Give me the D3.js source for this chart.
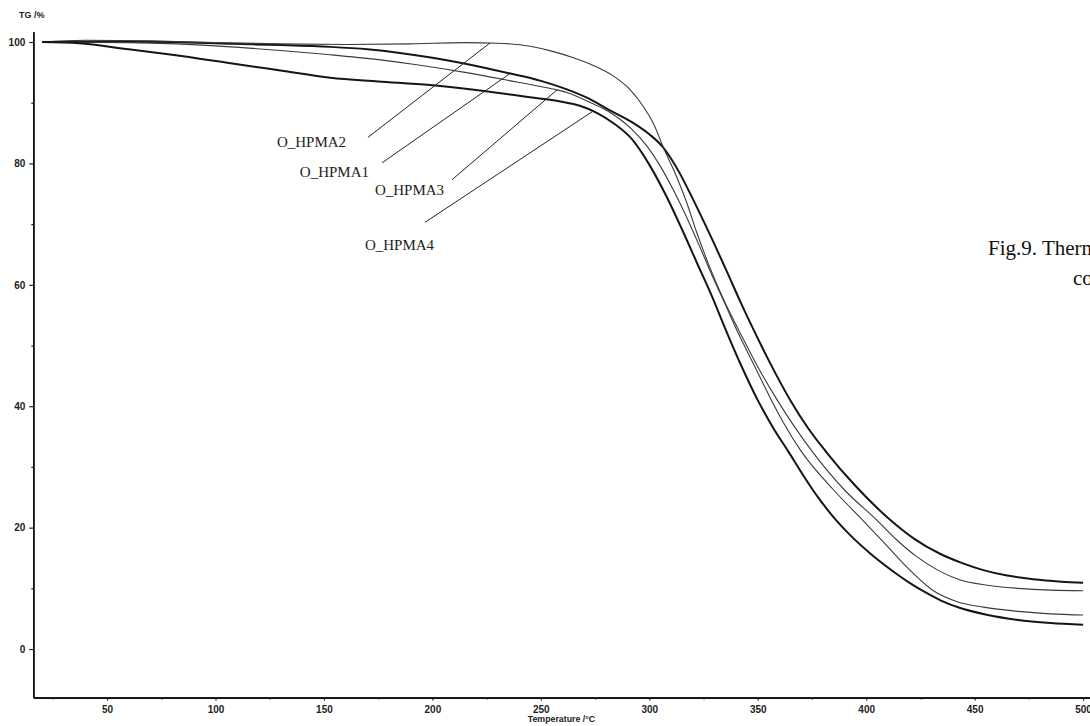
<!DOCTYPE html>
<html>
<head>
<meta charset="utf-8">
<script src="https://cdn.jsdelivr.net/npm/d3@7"></script>
<style>
  body { margin: 0; background: #fff; overflow: hidden; }
  svg { display: block; }
</style>
</head>
<body>
<svg id="chart" width="1090" height="726"></svg>
<script>
// TG curves: [temperature, TG %]
let hpma1 = [[20,100],[50,100.1],[80,100],[107,99.7],[130,99.5],[153,99.2],[170,98.8],[185,98.2],[200,97.4],[214,96.5],[226,95.6],[236,94.8],[250,93.6],[262,92.2],[272,90.7],[281,88.9],[292,86.8],[300,84.8],[306,82.8],[310,80.8],[314,78.4],[320,74.2],[327,69],[336,62],[342,57.2],[347,53.4],[355,47.6],[365,41],[373,36.5],[381.5,32.5],[395,26.9],[411,21.3],[422,18.2],[434,15.7],[444,14.2],[454,13],[465,12.1],[477,11.5],[490,11.1],[500,10.9]];
let hpma2 = [[20,100],[40,100.3],[70,100.2],[100,99.9],[130,99.7],[160,99.6],[190,99.7],[215,99.9],[230,99.8],[245,99.3],[255,98.5],[265,97.4],[275,96],[283,94.5],[291,92.2],[297,89.5],[302,86.5],[307,82.2],[312,78.3],[317,73.8],[322,68.5],[328,62.8],[335,57],[342,52],[350,46.5],[359,41],[367,36.6],[375,32.6],[390,26.2],[405,21.2],[414,18],[423,15.3],[433,13],[443,11.4],[456,10.5],[470,10],[485,9.7],[500,9.6]];
let hpma3 = [[20,100],[60,99.9],[107,99.2],[130,98.6],[153,97.9],[175,97.1],[192,96.3],[215,95],[239,93.4],[255,92.3],[262,91.7],[273,90],[281,88.6],[292,85.6],[299,82.8],[305,79.6],[311,75.7],[317,71.3],[323,66.5],[329,61.5],[335,56.8],[340,52.8],[348,47],[356,41.2],[362,37.2],[370,32.6],[385,26.2],[399,21],[408,17.6],[419,13.4],[431,9.6],[442,7.8],[454,6.9],[470,6.2],[485,5.8],[500,5.6]];
let hpma4 = [[20,100],[37,99.8],[60,98.8],[80,97.9],[107,96.5],[130,95.3],[153,94.1],[175,93.5],[199,92.9],[222,92],[245,90.9],[259,90.2],[268,89.5],[276,88.3],[284,86.5],[292,84],[300,79.8],[308,74.5],[315,69.2],[322,63.6],[329,58],[335,52.8],[342,47],[350,41],[357,36.5],[364,32.6],[371,28.6],[378,24.9],[385,21.7],[392.5,18.8],[402,15.7],[412,12.9],[420,10.9],[428,9.2],[435,7.9],[443,6.8],[455,5.7],[470,4.8],[485,4.3],[500,4.0]];

let seriesNames = ["O_HPMA1", "O_HPMA2", "O_HPMA3", "O_HPMA4"];
let seriesData = [hpma1, hpma2, hpma3, hpma4];
let seriesThick = [true, false, false, true];

// label text position and leader line (start point, temperature where it meets its curve)
let labelT = [138.9, 128.3, 173.5, 168.9];
let labelV = [77.8, 82.7, 74.8, 65.7];
let leaderStartT = [176.8, 170.3, 209, 196.6];
let leaderStartV = [80.1, 84.3, 77.3, 70.3];
let leaderEndT = [235.8, 226.5, 257.4, 274];

let xMajorTicks = [50, 100, 150, 200, 250, 300, 350, 400, 450, 500];
let xMinorTicks = [25, 75, 125, 175, 225, 275, 325, 375, 425, 475];
let yMajorTicks = [0, 20, 40, 60, 80, 100];
let yMinorTicks = [10, 30, 50, 70, 90];

let svg = d3.select("#chart");

let x = d3.scaleLinear().domain([16, 503]).range([33.3, 1089.6]);
let y = d3.scaleLinear().domain([-8, 101.7]).range([697.6, 31.7]);

// axes
svg.append("g")
    .attr("transform", "translate(" + x(16) + ",0)")
    .call(d3.axisLeft(y).tickValues(yMajorTicks).tickSize(4).tickSizeOuter(0).tickPadding(4));
svg.append("g")
    .attr("transform", "translate(" + x(16) + ",0)")
    .call(d3.axisLeft(y).tickValues(yMinorTicks).tickSize(2).tickFormat("").tickSizeOuter(0));

svg.append("g")
    .attr("transform", "translate(0," + y(-8) + ")")
    .call(d3.axisBottom(x).tickValues(xMajorTicks).tickSize(3).tickSizeOuter(0).tickPadding(5));
svg.append("g")
    .attr("transform", "translate(0," + y(-8) + ")")
    .call(d3.axisBottom(x).tickValues(xMinorTicks).tickSize(2).tickFormat("").tickSizeOuter(0));

svg.selectAll(".domain").style("stroke", "#111").style("stroke-width", 1.6);
svg.selectAll(".tick line").style("stroke", "#222").style("stroke-width", 1.2);
svg.selectAll(".tick text")
    .style("font-family", "'Liberation Sans', Arial, sans-serif")
    .style("font-size", "10px")
    .style("font-weight", "bold")
    .style("fill", "#222");

svg.append("text")
    .attr("x", 19)
    .attr("y", 18)
    .text("TG /%")
    .style("font-family", "'Liberation Sans', Arial, sans-serif")
    .style("font-size", "9px")
    .style("font-weight", "bold")
    .style("fill", "#222");

svg.append("text")
    .attr("x", (x(16) + x(503)) / 2)
    .attr("y", 722)
    .attr("text-anchor", "middle")
    .text("Temperature /°C")
    .style("font-family", "'Liberation Sans', Arial, sans-serif")
    .style("font-size", "8.8px")
    .style("font-weight", "bold")
    .style("fill", "#222");

// curves
let line = d3.line()
    .x(function (d) { return x(d[0]); })
    .y(function (d) { return y(d[1]); })
    .curve(d3.curveMonotoneX);

svg.selectAll(".curve")
    .data(seriesData)
    .enter()
    .append("path")
    .attr("class", "curve")
    .attr("d", line)
    .style("fill", "none")
    .style("stroke", function (d, i) { return seriesThick[i] ? "#151515" : "#3a3a3a"; })
    .style("stroke-width", function (d, i) { return seriesThick[i] ? 2 : 1.1; });

// value of a curve at temperature t
function valueAt(data, t) {
    let i = d3.bisector(function (d) { return d[0]; }).left(data, t);
    if (i <= 0) return data[0][1];
    if (i >= data.length) return data[data.length - 1][1];
    let a = data[i - 1], b = data[i];
    return a[1] + (b[1] - a[1]) * (t - a[0]) / (b[0] - a[0]);
}

// leader lines and labels
for (let i = 0; i < seriesNames.length; i++) {
    svg.append("line")
        .attr("x1", x(leaderStartT[i]))
        .attr("y1", y(leaderStartV[i]))
        .attr("x2", x(leaderEndT[i]))
        .attr("y2", y(valueAt(seriesData[i], leaderEndT[i])))
        .style("stroke", "#222")
        .style("stroke-width", 1);

    svg.append("text")
        .attr("x", x(labelT[i]))
        .attr("y", y(labelV[i]))
        .text(seriesNames[i])
        .style("font-family", "'Liberation Serif', 'Times New Roman', serif")
        .style("font-size", "15px")
        .style("fill", "#222");
}

// caption text that runs off the right edge
svg.append("text")
    .attr("x", 988)
    .attr("y", 255)
    .text("Fig.9. Thermograms of")
    .style("font-family", "'Liberation Serif', serif")
    .style("font-size", "21px")
    .style("fill", "#111");
svg.append("text")
    .attr("x", 1073)
    .attr("y", 285)
    .text("copolymers")
    .style("font-family", "'Liberation Serif', serif")
    .style("font-size", "21px")
    .style("fill", "#111");
</script>
</body>
</html>
